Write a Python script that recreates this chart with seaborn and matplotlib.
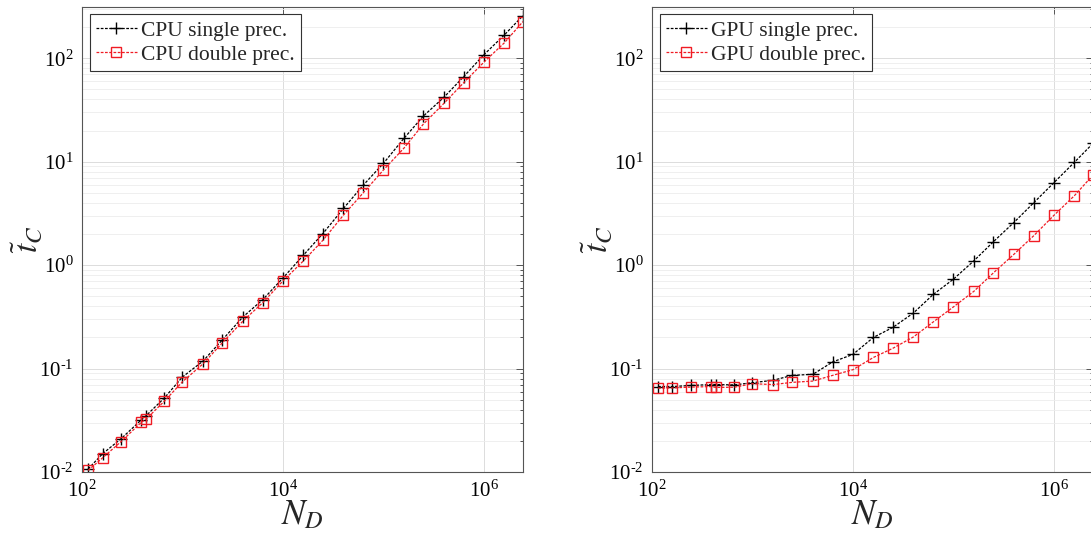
import numpy as np
import pandas as pd
import matplotlib
matplotlib.use("Agg")
import matplotlib.pyplot as plt
import seaborn as sns
from matplotlib.ticker import LogLocator, FuncFormatter, NullFormatter, NullLocator

# --- Data ---
n_d = [115, 160, 245, 390, 430, 660, 1000, 1600, 2500, 4000, 6300,
       1.0e4, 1.6e4, 2.5e4, 4.0e4, 6.3e4, 1.0e5, 1.6e5, 2.5e5, 4.0e5,
       6.3e5, 1.0e6, 1.6e6, 2.45e6]

cpu_single = [0.0107, 0.015, 0.021, 0.032, 0.0347, 0.052, 0.083, 0.118,
              0.19, 0.316, 0.464, 0.75, 1.25, 2.02, 3.53, 5.93, 9.63,
              16.8, 27.6, 41.9, 66.4, 108, 168, 258]
cpu_double = [0.01035, 0.0137, 0.0197, 0.0303, 0.0322, 0.0484, 0.0746,
              0.111, 0.178, 0.288, 0.434, 0.703, 1.10, 1.74, 3.04, 5.0,
              8.3, 13.5, 23.1, 36.6, 58, 91.5, 141, 226]

gpu_single = [0.067, 0.067, 0.0687, 0.070, 0.070, 0.0695, 0.073, 0.077,
              0.086, 0.088, 0.116, 0.137, 0.20, 0.25, 0.344, 0.52, 0.73,
              1.10, 1.68, 2.58, 4.0, 6.25, 9.84, 15.0]
gpu_double = [0.0647, 0.065, 0.0662, 0.067, 0.0657, 0.066, 0.0714, 0.070,
              0.0736, 0.0757, 0.086, 0.0975, 0.128, 0.157, 0.202, 0.282,
              0.394, 0.558, 0.84, 1.27, 1.92, 3.02, 4.68, 7.4]

panels = [
    ("CPU", cpu_single, cpu_double),
    ("GPU", gpu_single, gpu_double),
]

# --- Style ---
sns.set_theme(style="white")
plt.rcParams['font.family'] = ['Liberation Serif', 'DejaVu Serif']
plt.rcParams['mathtext.fontset'] = 'stix'


def pow10_label(v, pos):
    e = int(round(np.log10(v)))
    if e < 0:
        return r'$\mathdefault{10^{\text{-}%d}}$' % (-e)
    return r'$\mathdefault{10^{%d}}$' % e


fig = plt.figure(figsize=(10.91, 5.34), dpi=100)
ax_w, ax_h, ax_b = 0.4042, 0.8717, 0.1161
lefts = [0.0752, 0.5976]

spine_col = '#555555'
red = '#f01c24'

for left, (name, single, double) in zip(lefts, panels):
    ax = fig.add_axes([left, ax_b, ax_w, ax_h])
    df = pd.DataFrame({'N': n_d, 'single': single, 'double': double})

    sns.lineplot(data=df, x='N', y='single', ax=ax, color='black',
                 linestyle=(0, (2.2, 1.2)), linewidth=0.9, marker='+',
                 markersize=9, markeredgewidth=1.0, markeredgecolor='black',
                 label=f'{name} single prec.')
    sns.lineplot(data=df, x='N', y='double', ax=ax, color=red,
                 linestyle=(0, (2.2, 1.2)), linewidth=0.9, marker='s',
                 markersize=6.5, markerfacecolor='none',
                 markeredgecolor=red, markeredgewidth=1.0,
                 label=f'{name} double prec.')

    ax.set_xscale('log')
    ax.set_yscale('log')
    ax.set_xlim(1e2, 10**6.39)
    ax.set_ylim(1e-2, 10**2.5)

    ax.xaxis.set_major_locator(LogLocator(base=100, numticks=10))
    ax.xaxis.set_major_formatter(FuncFormatter(pow10_label))
    ax.xaxis.set_minor_locator(NullLocator())
    ax.xaxis.set_minor_formatter(NullFormatter())
    ax.yaxis.set_major_locator(LogLocator(base=10, numticks=10))
    ax.yaxis.set_major_formatter(FuncFormatter(pow10_label))
    ax.yaxis.set_minor_locator(LogLocator(base=10, subs=np.arange(2, 10), numticks=20))
    ax.yaxis.set_minor_formatter(NullFormatter())

    ax.grid(True, which='major', color='#dcdcdc', linewidth=0.7)
    ax.grid(True, which='minor', axis='y', color='#ececec', linewidth=0.6)
    ax.set_axisbelow(True)

    ax.tick_params(which='both', direction='in', top=True, right=True,
                   colors=spine_col, labelcolor='black', labelsize=15,
                   width=0.7)
    ax.tick_params(which='major', length=5, pad=6)
    ax.tick_params(which='minor', length=2.5)
    for sp in ax.spines.values():
        sp.set_color(spine_col)
        sp.set_linewidth(0.8)

    ax.set_xlabel(r'$N_D$', fontsize=25, labelpad=-2)
    ax.set_ylabel(r'$\tilde{t}_C$', fontsize=24)
    ax.yaxis.set_label_coords(-0.086, 0.5)

    leg = ax.legend(loc='upper left', fontsize=15.5, frameon=True,
                    fancybox=False, framealpha=1, edgecolor='#333333',
                    borderaxespad=0.35, handlelength=1.9, handletextpad=0.2,
                    borderpad=0.3, labelspacing=0.2)
    leg.get_frame().set_linewidth(0.8)

fig.savefig('out.png', dpi=100)
